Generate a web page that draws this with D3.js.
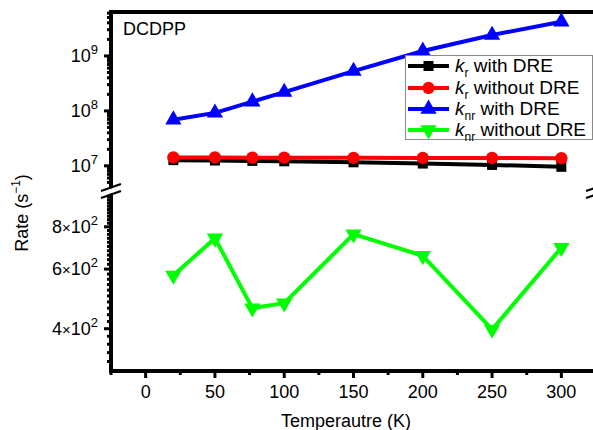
<!DOCTYPE html>
<html><head><meta charset="utf-8">
<script src="https://cdn.jsdelivr.net/npm/d3@7/dist/d3.min.js"></script>
<style>
html,body{margin:0;padding:0;background:#fff;}
svg{display:block;font-family:"Liberation Sans",Arial,sans-serif;}
</style></head>
<body>
<svg id="c" width="593" height="430"></svg>
<script>
const temps = [20, 50, 77, 100, 150, 200, 250, 300];
const krWith = [1.27e7, 1.25e7, 1.23e7, 1.21e7, 1.16e7, 1.1e7, 1.04e7, 0.96e7];
const krWithout = [1.42e7, 1.42e7, 1.41e7, 1.41e7, 1.4e7, 1.39e7, 1.39e7, 1.38e7];
const knrWith = [6.9e7, 9.2e7, 1.47e8, 2.2e8, 5.3e8, 1.23e9, 2.4e9, 4.2e9];
const knrWithout = [575, 740, 460, 476, 761, 657, 398, 694];
const xTicks = [0, 50, 100, 150, 200, 250, 300];
const upperTicks = [1e7, 1e8, 1e9];
const upperTickExp = ["7", "8", "9"];
const lowerTicks = [400, 600, 800];
const lowerTickMant = ["4", "6", "8"];
const seriesNames = [["k","r"," with DRE"],["k","r"," without DRE"],["k","nr"," with DRE"],["k","nr"," without DRE"]];
const colors = ["#000000", "#ff0000", "#0000ff", "#00ff00"];

const svg = d3.select("#c");
const L = 111, R = 596, T = 12, B = 371;
const x = d3.scaleLinear().domain([-25, 325]).range([L, R]);
const yU = d3.scaleLog().domain([4.3e6, 6.3e9]).range([186, T]);
const yL = d3.scaleLog().domain([300, 1000]).range([B, 194]);

// frame lines
const frame = svg.append("g").attr("stroke", "#000").attr("stroke-width", 4).attr("fill", "none");
frame.append("line").attr("x1", L).attr("x2", L).attr("y1", T - 2).attr("y2", B + 2);
frame.append("line").attr("x1", L - 2).attr("x2", R + 2).attr("y1", T).attr("y2", T);
frame.append("line").attr("x1", L - 2).attr("x2", R + 2).attr("y1", B).attr("y2", B);
frame.append("line").attr("x1", R).attr("x2", R).attr("y1", T - 2).attr("y2", B + 2);

// x axis ticks
const xMinor = d3.range(-25, 326, 25).filter(v => v % 50 !== 0 || v < 0);
const tg = svg.append("g").attr("stroke", "#000").attr("stroke-width", 3);
xTicks.forEach(v => tg.append("line").attr("x1", x(v)).attr("x2", x(v)).attr("y1", B).attr("y2", B + 7));
xMinor.forEach(v => tg.append("line").attr("x1", x(v)).attr("x2", x(v)).attr("y1", B).attr("y2", B + 4));
svg.append("g").selectAll("text").data(xTicks).join("text")
  .attr("x", d => x(d)).attr("y", 398).attr("text-anchor", "middle")
  .attr("font-size", 18).text(d => d);

// upper y ticks (log)
const upMinor = [];
[6, 7, 8, 9].forEach(e => { for (let m = 2; m <= 9; m++) { const v = m * Math.pow(10, e); if (v >= 4.4e6 && v <= 6.3e9) upMinor.push(v); } });
upperTicks.forEach(v => tg.append("line").attr("x1", L).attr("x2", L - 7).attr("y1", yU(v)).attr("y2", yU(v)));
upMinor.forEach(v => tg.append("line").attr("x1", L).attr("x2", L - 4).attr("y1", yU(v)).attr("y2", yU(v)));
upperTicks.forEach((v, i) => {
  const t = svg.append("text").attr("x", 98).attr("y", yU(v) + 6).attr("text-anchor", "end").attr("font-size", 18);
  t.append("tspan").text("10");
  t.append("tspan").attr("font-size", 13).attr("dy", -8).text(upperTickExp[i]);
});

// lower y ticks
const lowMinor = d3.range(300, 1000, 20).filter(v => !lowerTicks.includes(v) && v > 300);
lowerTicks.forEach(v => tg.append("line").attr("x1", L).attr("x2", L - 7).attr("y1", yL(v)).attr("y2", yL(v)));
lowMinor.forEach(v => tg.append("line").attr("x1", L).attr("x2", L - 4).attr("y1", yL(v)).attr("y2", yL(v)));
lowerTicks.forEach((v, i) => {
  const t = svg.append("text").attr("x", 98).attr("y", yL(v) + 6).attr("text-anchor", "end").attr("font-size", 18);
  t.append("tspan").text(lowerTickMant[i]);
  t.append("tspan").attr("font-size", 15).text("\u00d7");
  t.append("tspan").text("10");
  t.append("tspan").attr("font-size", 13).attr("dy", -8).text("2");
});

// break symbols
function brk(cx, cy) {
  const g = svg.append("g");
  g.append("polygon").attr("points", `${cx-10},${cy+1} ${cx+10},${cy-6} ${cx+10},${cy-1} ${cx-10},${cy+6}`).attr("fill", "#fff");
  g.append("line").attr("x1", cx - 10).attr("y1", cy + 0).attr("x2", cx + 10).attr("y2", cy - 7).attr("stroke", "#000").attr("stroke-width", 2.2);
  g.append("line").attr("x1", cx - 10).attr("y1", cy + 7).attr("x2", cx + 10).attr("y2", cy - 0).attr("stroke", "#000").attr("stroke-width", 2.2);
}
brk(L, 191);
brk(R, 191);

// series
const lineU = d3.line().x((d, i) => x(temps[i])).y(d => yU(d));
const lineL = d3.line().x((d, i) => x(temps[i])).y(d => yL(d));
const sym = [d3.symbolSquare, d3.symbolCircle, d3.symbolTriangle, d3.symbolTriangle];
const symSize = [100, 120, 115, 115];
const series = [
  {v: krWith, s: yU, l: lineU},
  {v: krWithout, s: yU, l: lineU},
  {v: knrWith, s: yU, l: lineU},
  {v: knrWithout, s: yL, l: lineL}
];
series.forEach((sr, k) => {
  const g = svg.append("g");
  g.append("path").attr("d", sr.l(sr.v)).attr("fill", "none").attr("stroke", colors[k]).attr("stroke-width", 4).attr("stroke-linejoin", "round");
  g.selectAll("path.m").data(sr.v).join("path").attr("class", "m")
    .attr("d", d3.symbol().type(sym[k]).size(symSize[k]))
    .attr("transform", (d, i) => `translate(${x(temps[i])},${sr.s(d)})` + (k === 3 ? " rotate(180)" : ""))
    .attr("fill", colors[k]);
});

// legend
const lg = svg.append("g");
lg.append("rect").attr("x", 405.5).attr("y", 55.5).attr("width", 187).attr("height", 84).attr("fill", "#fff").attr("stroke", "#8a8a8a").attr("stroke-width", 1);
const ly = [66, 88, 109, 130];
seriesNames.forEach((n, k) => {
  lg.append("line").attr("x1", 408).attr("x2", 449).attr("y1", ly[k]).attr("y2", ly[k]).attr("stroke", colors[k]).attr("stroke-width", 4);
  lg.append("path").attr("d", d3.symbol().type(sym[k]).size(symSize[k]))
    .attr("transform", `translate(428.5,${ly[k]})` + (k === 3 ? " rotate(180)" : "")).attr("fill", colors[k]);
  const t = lg.append("text").attr("x", 455).attr("y", ly[k] + 6).attr("font-size", 19);
  t.append("tspan").attr("font-style", "italic").text(n[0]);
  t.append("tspan").attr("font-size", 12).attr("dy", 5).text(n[1]);
  t.append("tspan").attr("dy", -5).text(n[2]);
});

// texts
svg.append("text").attr("x", 123).attr("y", 35).attr("font-size", 18).text("DCDPP");
svg.append("text").attr("x", (L + 581) / 2).attr("y", 427).attr("text-anchor", "middle").attr("font-size", 18).text("Temperautre (K)");
const yt = svg.append("text").attr("transform", "translate(28,213) rotate(-90)").attr("text-anchor", "middle").attr("font-size", 18);
yt.append("tspan").text("Rate (s");
yt.append("tspan").attr("font-size", 12).attr("dy", -8).text("\u22121");
yt.append("tspan").attr("dy", 8).text(")");
</script>
</body></html>
